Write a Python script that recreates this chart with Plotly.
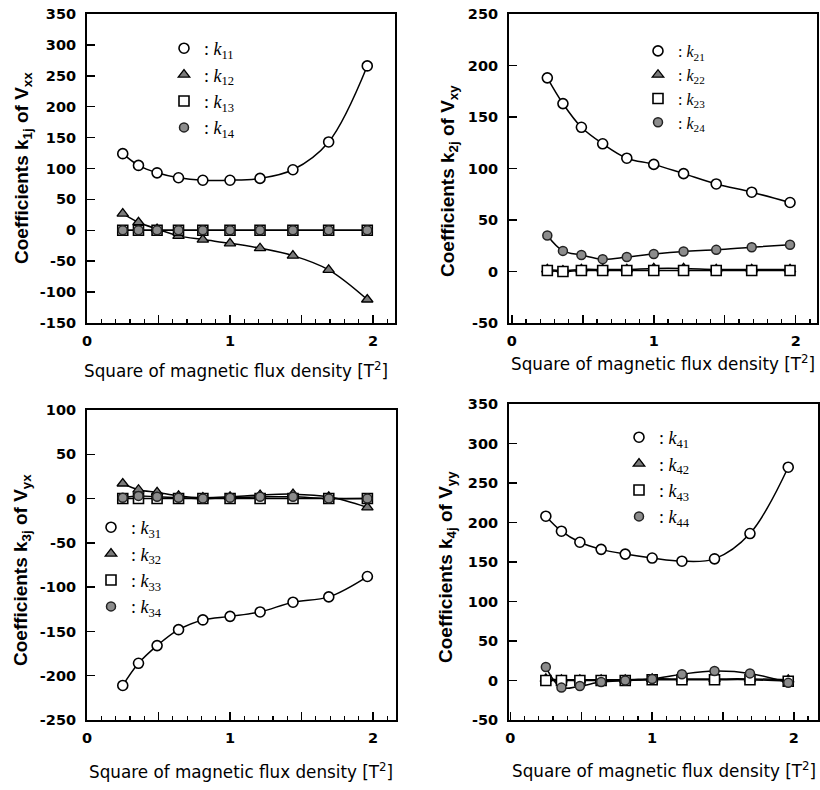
import plotly.graph_objects as go

W, H = 820, 790

# Square of magnetic flux density [T^2]
b2 = [0.25, 0.36, 0.49, 0.64, 0.81, 1.00, 1.21, 1.44, 1.69, 1.96]

# Panel 1: coefficients k1j of Vxx
k11 = [124, 105, 93, 85, 81, 81, 84, 98, 143, 266]
k12 = [27, 13, 2, -9, -15, -21, -29, -41, -64, -112]
k13 = [0, 0, 0, 0, 0, 0, 0, 0, 0, 0]
k14 = [0, 0, 0, 0, 0, 0, 0, 0, 0, 0]

# Panel 2: coefficients k2j of Vxy
k21 = [188, 163, 140, 124, 110, 104, 95, 85, 77, 67]
k22 = [2, 1, 2, 2, 2, 3, 3, 2, 2, 2]
k23 = [1, 0, 1, 1, 1, 1, 1, 1, 1, 1]
k24 = [35, 20, 16, 12, 14, 17, 19.5, 21, 23.5, 26]

# Panel 3: coefficients k3j of Vyx
k31 = [-211, -186, -166, -148, -137, -133, -128, -117, -111, -88]
k32 = [17, 10, 7, 3, 1, 2, 4, 5, 2, -10]
k33 = [0, 0, 0, 0, 0, 0, 0, 0, 0, 0]
k34 = [1, 3, 2, 1, 0, 1, 2, 2, 0, 0]

# Panel 4: coefficients k4j of Vyy
k41 = [208, 189, 175, 166, 160, 155, 151, 154, 186, 270]
k42 = [2, 1, 1, 1, 1, 2, 2, 2, 2, 1]
k43 = [0, 0, 0, 0, 0, 1, 1, 1, 1, -1]
k44 = [17, -9, -7, -2, 0, 2, 8, 12, 9, -3]

# axis ticks
x_tickvals = [0, 0.5, 1, 1.5, 2]
x_ticktext = ["0", "", "1", "", "2"]
y1_ticks = [-150, -100, -50, 0, 50, 100, 150, 200, 250, 300, 350]
y2_ticks = [-50, 0, 50, 100, 150, 200, 250]
y3_ticks = [-250, -200, -150, -100, -50, 0, 50, 100]
y4_ticks = [-50, 0, 50, 100, 150, 200, 250, 300, 350]


def px(X):
    return X / W


def py(Y):
    return 1 - Y / H


panels = [
    dict(n=1, series=[k11, k12, k13, k14], idx="1", ytitle="Coefficients k<sub>1j</sub> of V<sub>xx</sub>",
         xdom=[87, 395], ydom=[14, 323], xr=[0, 2.154], yr=[-150, 350], yt=y1_ticks,
         leg=(164, 30), legsize=18, xt=(236, 370), yti=(23, 168)),
    dict(n=2, series=[k21, k22, k23, k24], idx="2", ytitle="Coefficients k<sub>2j</sub> of V<sub>xy</sub>",
         xdom=[509, 817], ydom=[14, 323], xr=[-0.02, 2.15], yr=[-50, 250], yt=y2_ticks,
         leg=(638, 34), legsize=16, xt=(663, 363), yti=(449, 181)),
    dict(n=3, series=[k31, k32, k33, k34], idx="3", ytitle="Coefficients k<sub>3j</sub> of V<sub>yx</sub>",
         xdom=[87, 396], ydom=[410, 720], xr=[0, 2.16], yr=[-250, 100], yt=y3_ticks,
         leg=(91, 509), legsize=18, xt=(241, 771), yti=(22, 570)),
    dict(n=4, series=[k41, k42, k43, k44], idx="4", ytitle="Coefficients k<sub>4j</sub> of V<sub>yy</sub>",
         xdom=[509, 818], ydom=[404, 720], xr=[-0.01, 2.17], yr=[-50, 350], yt=y4_ticks,
         leg=(619, 419), legsize=18, xt=(664, 770), yti=(447, 567)),
]

marker_styles = [
    dict(symbol="circle", size=10, color="white", line=dict(color="black", width=1.6)),
    dict(symbol="triangle-up", size=10, color="#7a7a7a", line=dict(color="black", width=1.3)),
    dict(symbol="square", size=10, color="white", line=dict(color="black", width=1.6)),
    dict(symbol="circle", size=9, color="#8c8c8c", line=dict(color="#222", width=1.5)),
]

fig = go.Figure()
layout = dict(width=W, height=H, margin=dict(l=0, r=0, t=0, b=0, pad=0, autoexpand=False),
              paper_bgcolor="white", plot_bgcolor="white", showlegend=True, annotations=[])

tick_font = dict(family="DejaVu Sans", size=14.5, color="black", weight="bold")

for p in panels:
    n = p["n"]
    xa = "x" if n == 1 else f"x{n}"
    ya = "y" if n == 1 else f"y{n}"
    legname = "legend" if n == 1 else f"legend{n}"
    # lines first
    for s in p["series"]:
        fig.add_trace(go.Scatter(x=b2, y=s, mode="lines", xaxis=xa, yaxis=ya,
                                 line=dict(color="black", width=1.5, shape="spline", smoothing=1.0),
                                 showlegend=False, hoverinfo="skip"))
    for j in range(4):
        s = p["series"][j]
        fig.add_trace(go.Scatter(x=b2, y=s, mode="markers", xaxis=xa, yaxis=ya,
                                 marker=marker_styles[j],
                                 name=f": <i>k</i><sub>{p['idx']}{j+1}</sub>",
                                 legend=legname, legendrank=j + 1))
    xkey = "xaxis" if n == 1 else f"xaxis{n}"
    ykey = "yaxis" if n == 1 else f"yaxis{n}"
    layout[xkey] = dict(domain=[px(p["xdom"][0]), px(p["xdom"][1])], anchor=ya, range=p["xr"],
                        tickmode="array", tickvals=x_tickvals, ticktext=x_ticktext,
                        ticks="inside", ticklen=8, tickwidth=1.5, tickcolor="black",
                        minor=dict(ticks="inside", dtick=0.1, ticklen=4, tickwidth=1.2, tickcolor="black"),
                        showline=True, linewidth=2, linecolor="black", mirror=True,
                        showgrid=False, zeroline=False, tickfont=tick_font, ticklabelstandoff=4,
                        ticklabeloverflow="allow", automargin=False, fixedrange=True)
    layout[ykey] = dict(domain=[py(p["ydom"][1]), py(p["ydom"][0])], anchor=xa, range=p["yr"],
                        tickmode="array", tickvals=p["yt"], ticktext=[str(v) for v in p["yt"]],
                        ticks="inside", ticklen=8, tickwidth=1.5, tickcolor="black",
                        showline=True, linewidth=2, linecolor="black", mirror=True,
                        showgrid=False, zeroline=False, tickfont=tick_font, ticklabelstandoff=6,
                        ticklabeloverflow="allow", automargin=False, fixedrange=True)
    layout[legname] = dict(x=px(p["leg"][0]), y=py(p["leg"][1]), xanchor="left", yanchor="top",
                           bgcolor="rgba(0,0,0,0)", borderwidth=0, itemwidth=30,
                           font=dict(family="Liberation Serif", size=p["legsize"], color="black"),
                           traceorder="normal", itemclick=False, itemdoubleclick=False)
    layout["annotations"].append(dict(
        text="Square of magnetic flux density [T<sup>2</sup>]", x=px(p["xt"][0]), y=py(p["xt"][1]),
        xref="paper", yref="paper", showarrow=False, xanchor="center", yanchor="middle",
        font=dict(family="DejaVu Sans", size=16.8, color="black")))
    layout["annotations"].append(dict(
        text=p["ytitle"], x=px(p["yti"][0]), y=py(p["yti"][1]), textangle=-90,
        xref="paper", yref="paper", showarrow=False, xanchor="center", yanchor="middle",
        font=dict(family="Liberation Sans", size=19, color="black", weight="bold")))

fig.update_layout(**layout)
fig.write_html("out.html",
               config={"displayModeBar": False, "staticPlot": True},
               post_script="document.body.style.margin='0';document.body.style.overflow='hidden';")
